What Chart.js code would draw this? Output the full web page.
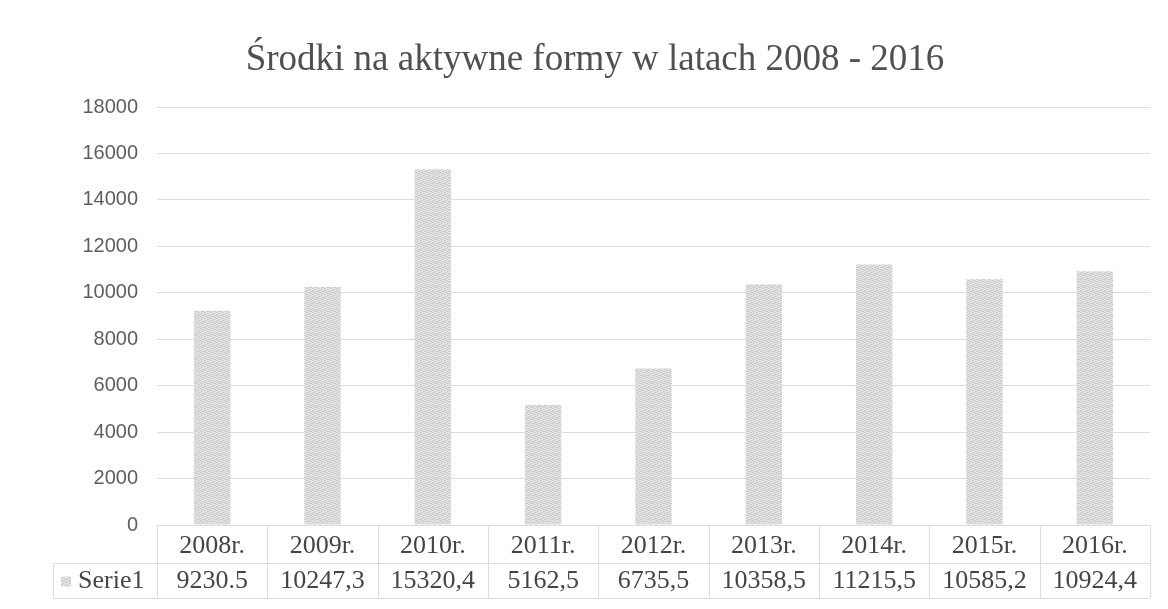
<!DOCTYPE html>
<html>
<head>
<meta charset="utf-8">
<script src="https://cdn.jsdelivr.net/npm/chart.js@4/dist/chart.umd.min.js"></script>
<style>
html,body{margin:0;padding:0;background:#fff;}
#wrap{width:1168px;height:609px;position:relative;}
</style>
</head>
<body>
<div id="wrap"><canvas id="c" width="1168" height="609"></canvas></div>
<script>
const titleText = 'Środki na aktywne formy w latach 2008 - 2016';
const categories = ['2008r.','2009r.','2010r.','2011r.','2012r.','2013r.','2014r.','2015r.','2016r.'];
const seriesName = 'Serie1';
const values = [9230.5, 10247.3, 15320.4, 5162.5, 6735.5, 10358.5, 11215.5, 10585.2, 10924.4];
const valueLabels = ['9230.5','10247,3','15320,4','5162,5','6735,5','10358,5','11215,5','10585,2','10924,4'];
const yMin = 0, yMax = 18000, yStep = 2000;

function makePattern(){
  const p = document.createElement('canvas');
  p.width = 6; p.height = 6;
  const g = p.getContext('2d');
  g.fillStyle = '#e4e4e4';
  g.fillRect(0,0,6,6);
  g.fillStyle = '#c2c2c2';
  const dots = [[0,0],[3,1],[1,2],[4,3],[2,4],[5,5],[0,3],[3,5]];
  dots.forEach(d=>g.fillRect(d[0],d[1],1,1));
  g.fillStyle = '#d0d0d0';
  [[1,0],[4,1],[2,2],[5,3],[1,4],[4,5]].forEach(d=>g.fillRect(d[0],d[1],1,1));
  return document.getElementById('c').getContext('2d').createPattern(p,'repeat');
}

const lineColor = '#dcdcdc';
const textColor = '#454545';
const serif = '"Liberation Serif", "Times New Roman", serif';

const tablePlugin = {
  id:'dataTable',
  afterDraw(chart){
    const ctx = chart.ctx;
    const x = chart.scales.x;
    const area = chart.chartArea;
    const n = categories.length;
    const left = area.left, right = area.right;
    const legendLeft = 53;
    const rowTop = area.bottom;
    const rowMid = area.bottom + 38;
    const rowBot = area.bottom + 73;
    ctx.save();
    // title
    ctx.font = '37px ' + serif;
    ctx.fillStyle = '#505050';
    ctx.textAlign = 'center';
    ctx.textBaseline = 'middle';
    ctx.fillText(titleText, 595, 60);
    // table
    ctx.strokeStyle = lineColor;
    ctx.lineWidth = 1;
    ctx.beginPath();
    ctx.moveTo(left, rowTop+0.5); ctx.lineTo(right, rowTop+0.5);
    ctx.moveTo(legendLeft, rowMid+0.5); ctx.lineTo(right, rowMid+0.5);
    ctx.moveTo(legendLeft, rowBot+0.5); ctx.lineTo(right, rowBot+0.5);
    ctx.moveTo(legendLeft+0.5, rowMid); ctx.lineTo(legendLeft+0.5, rowBot);
    const cw = (right-left)/n;
    for(let i=0;i<=n;i++){
      const xx = Math.round(left + i*cw)+0.5;
      ctx.moveTo(xx, rowTop); ctx.lineTo(xx, rowBot);
    }
    ctx.stroke();
    ctx.font = '26px ' + serif;
    ctx.fillStyle = textColor;
    const vy = (rowMid+rowBot)/2 + 1;
    valueLabels.forEach((v,i)=>{
      ctx.fillText(v, x.getPixelForValue(i), vy);
    });
    // legend key
    ctx.fillStyle = makePattern();
    ctx.fillRect(61, vy-5, 10, 10);
    ctx.fillStyle = textColor;
    ctx.textAlign = 'left';
    ctx.fillText(seriesName, 78, vy);
    ctx.restore();
  }
};

new Chart(document.getElementById('c'), {
  type:'bar',
  data:{
    labels: categories,
    datasets:[{
      label: seriesName,
      data: values,
      backgroundColor: makePattern(),
      borderWidth:0,
      categoryPercentage:1.0,
      barPercentage:0.33
    }]
  },
  options:{
    responsive:false,
    animation:false,
    devicePixelRatio:1,
    layout:{padding:{left:0,right:18,top:107,bottom:0}},
    plugins:{
      legend:{display:false},
      tooltip:{enabled:false},
      title:{display:false}
    },
    scales:{
      x:{
        grid:{display:false, drawTicks:false},
        border:{display:false},
        ticks:{
          color:textColor,
          padding:6,
          font:{family:serif, size:26}
        },
        afterFit(s){ s.height = 84; }
      },
      y:{
        min:yMin, max:yMax,
        grid:{color:lineColor, drawTicks:false},
        border:{display:false},
        ticks:{
          stepSize:yStep,
          color:'#5e5e5e',
          padding:19,
          font:{family:'"Liberation Sans", Arial, sans-serif', size:20},
          callback:(v)=>String(v)
        },
        afterFit(s){ s.width = 157; }
      }
    }
  },
  plugins:[tablePlugin]
});
</script>
</body>
</html>
